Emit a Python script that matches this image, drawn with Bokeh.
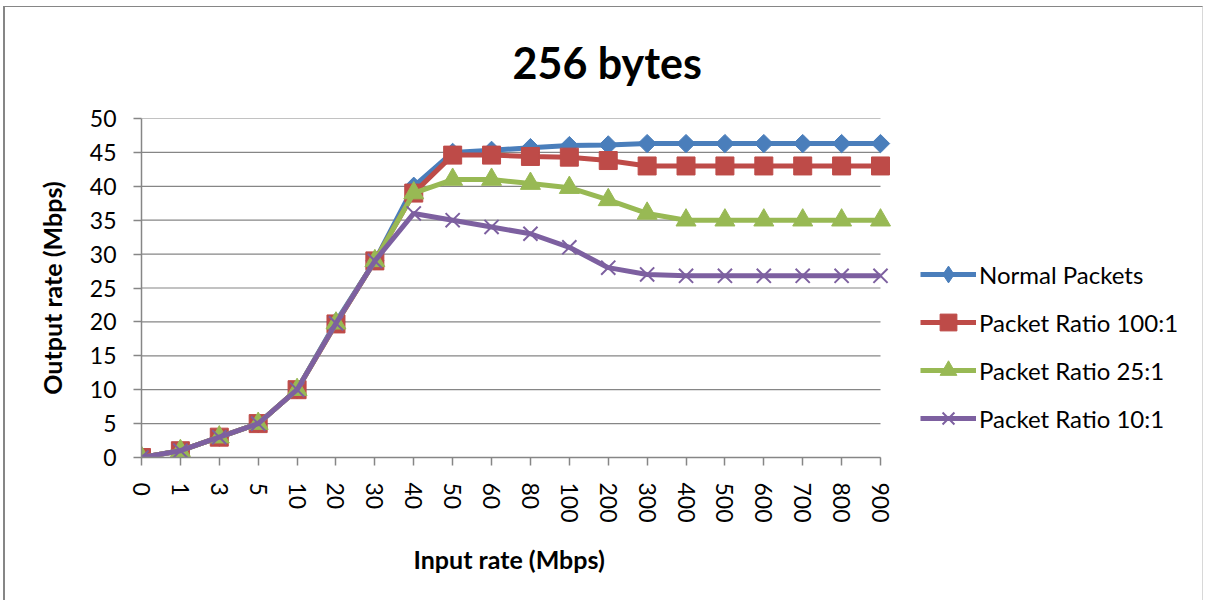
import numpy as np
from bokeh.plotting import figure
from bokeh.models import Range1d, FixedTicker, Legend, LegendItem, Title
from bokeh.embed import file_html
from bokeh.resources import INLINE

categories = ["0", "1", "3", "5", "10", "20", "30", "40", "50", "60", "80", "100",
              "200", "300", "400", "500", "600", "700", "800", "900"]
normal = [0, 1, 3, 5, 10, 20, 29, 40, 45, 45.3, 45.7, 46, 46.1, 46.3, 46.3, 46.3, 46.3, 46.3, 46.3, 46.3]
ratio100 = [0, 1, 3, 5, 10, 19.7, 29, 39, 44.6, 44.6, 44.4, 44.3, 43.8, 43, 43, 43, 43, 43, 43, 43]
ratio25 = [0, 1, 3, 5, 10, 19.8, 29, 39, 41, 41, 40.4, 39.8, 38, 36, 35, 35, 35, 35, 35, 35]
ratio10 = [0, 1, 3, 5, 10, 19.8, 29, 36, 35, 34, 33, 31, 28, 27, 26.8, 26.8, 26.8, 26.8, 26.8, 26.8]
series_names = ["Normal Packets", "Packet Ratio 100:1", "Packet Ratio 25:1", "Packet Ratio 10:1"]
y_ticks = [0, 5, 10, 15, 20, 25, 30, 35, 40, 45, 50]

FONT = "Lato"
GRAY = "#868686"
n = len(categories)
xs = list(range(n))

# layout (pixels)
W, H = 1200, 594
B_LEFT, B_RIGHT, B_TOP, B_BOTTOM = 136, 2, 111, 144
PLOT_PX = 739                      # width used by the 20 categories
FRAME_PX = W - B_LEFT - B_RIGHT    # frame also hosts the legend on the right
x_end = (n - 1) * FRAME_PX / PLOT_PX

p = figure(width=W, height=H, output_backend="svg", toolbar_location=None,
           x_range=Range1d(0, x_end), y_range=Range1d(0, 50),
           min_border_left=B_LEFT, min_border_right=B_RIGHT,
           min_border_top=B_TOP, min_border_bottom=B_BOTTOM,
           background_fill_color="white", border_fill_color="white")
p.styles = {"margin-left": "3px", "margin-top": "6px",
            "border-left": "2px solid #868686", "border-top": "1px solid #868686",
            "border-right": "1px solid #d8d8d8"}
p.outline_line_color = None

p.title.text = "256 bytes"
p.title.text_font = FONT
p.title.text_font_size = "43px"
p.title.text_font_style = "bold"
p.title.align = "left"
p.title.offset = 371
p.title.vertical_align = "top"
p.title.standoff = 58
p.title.text_color = "black"

# axes
p.xaxis.ticker = FixedTicker(ticks=xs)
p.xaxis.bounds = (0, n - 1)
p.xaxis.major_label_overrides = {i: c for i, c in enumerate(categories)}
p.xaxis.major_label_orientation = "vertical"
p.yaxis.ticker = FixedTicker(ticks=y_ticks)
for ax in (p.xaxis, p.yaxis):
    ax.axis_line_color = GRAY
    ax.axis_line_width = 1.5
    ax.major_tick_line_color = GRAY
    ax.major_tick_line_width = 1.5
    ax.major_tick_in = 0
    ax.major_tick_out = 8
    ax.minor_tick_line_color = None
    ax.major_label_text_font = FONT
    ax.major_label_text_font_size = "23px"
    ax.major_label_text_color = "black"
    ax.axis_label_text_font = FONT
    ax.axis_label_text_font_size = "25px"
    ax.axis_label_text_font_style = "bold"
    ax.axis_label_text_color = "black"
p.yaxis.axis_label = "Output rate (Mbps)"
p.xaxis.major_label_standoff = 17
p.yaxis.major_label_standoff = 17
p.yaxis.axis_label_standoff = 20

xtitle = Title(text="Input rate (Mbps)", text_font=FONT, text_font_size="25px",
               text_font_style="bold", text_color="black", align="left",
               offset=272, standoff=33)
p.add_layout(xtitle, "below")

# horizontal gridlines limited to the category span
p.xgrid.grid_line_color = None
p.ygrid.grid_line_color = None
p.segment(x0=[0] * len(y_ticks), x1=[n - 1] * len(y_ticks), y0=y_ticks, y1=y_ticks,
          line_color=GRAY, line_width=1.2)

colors = ["#4A7EBB", "#BE4B48", "#98B954", "#7D60A0"]
data = [normal, ratio100, ratio25, ratio10]
items = []
for name, ys, col, i in zip(series_names, data, colors, range(4)):
    ln = p.line(xs, ys, line_color=col, line_width=5)
    if i == 0:
        p.scatter(xs, ys, marker="square", angle=np.pi / 4, size=13,
                  fill_color=col, line_color=col)
        lg = p.scatter([np.nan], [np.nan], marker="diamond", fill_color=col, line_color=col)
    elif i == 1:
        p.scatter(xs, ys, marker="square", size=18, fill_color=col, line_color=col)
        lg = p.scatter([np.nan], [np.nan], marker="square", fill_color=col, line_color=col)
    elif i == 2:
        p.scatter(xs, ys, marker="triangle", size=20, fill_color=col, line_color=col)
        lg = p.scatter([np.nan], [np.nan], marker="triangle", fill_color=col, line_color=col)
    else:
        p.scatter(xs, ys, marker="x", size=20, line_color=col, line_width=2)
        lg = p.scatter([np.nan], [np.nan], marker="x", line_color=col, line_width=2)
    items.append(LegendItem(label=name, renderers=[ln, lg]))

legend = Legend(items=items, location=(779, 18), padding=0, margin=0,
                border_line_color=None, background_fill_alpha=0,
                glyph_width=56, glyph_height=42, label_standoff=3, spacing=6,
                label_text_font=FONT, label_text_font_size="24px", label_text_color="black")
p.add_layout(legend, "center")

open("out.html", "w").write(file_html(p, INLINE))
